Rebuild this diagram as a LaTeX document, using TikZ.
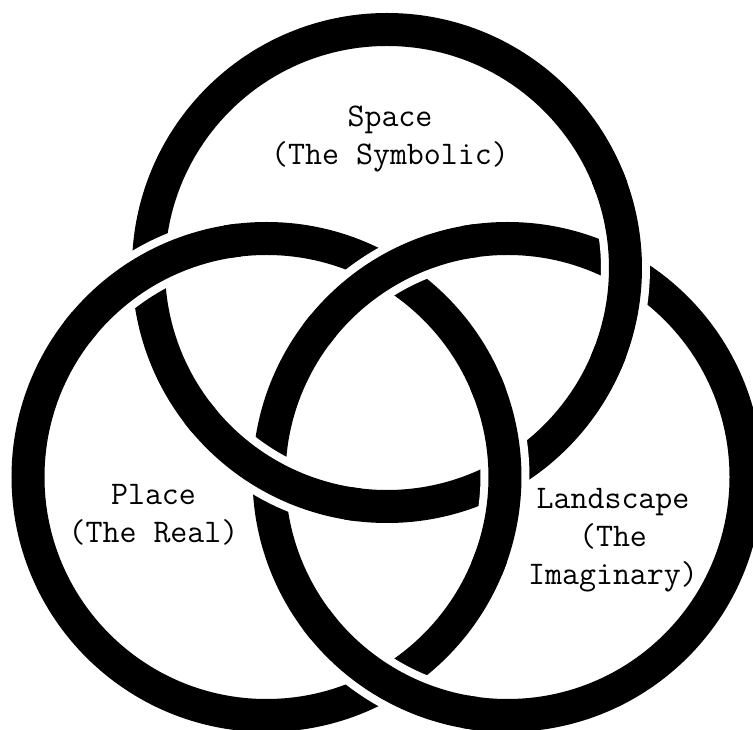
\documentclass[tikz,border=0pt]{standalone}
\begin{document}
\begin{tikzpicture}[x=1pt,y=1pt,
  ring/.style={line width=33pt, black},
  gapline/.style={white, line width=49pt},
  lbl/.style={font=\ttfamily\fontsize{33}{38}\selectfont, align=center, anchor=base, inner sep=0pt}]
\useasboundingbox (0,0) rectangle (753,729);
\fill[white] (0,0) rectangle (753,729);
\clip (0,0) rectangle (753,729);
\coordinate (T) at (387,461);
\coordinate (L) at (266.5,252);
\coordinate (R) at (507.5,252);
\draw[ring] (T) circle[radius=238.5pt];
\draw[ring] (L) circle[radius=238.5pt];
\draw[ring] (R) circle[radius=238.5pt];
% over-crossings: Place over Space, Space over Landscape, Landscape over Place
\foreach \c/\a in {L/119.65, L/0.41, T/-0.41, T/-119.65, R/120.35, R/239.65} {
  \draw[gapline] (\c) ++(\a-20:238.5pt) arc[start angle=\a-20, end angle=\a+20, radius=238.5pt];
  \draw[ring] (\c) ++(\a-23:238.5pt) arc[start angle=\a-23, end angle=\a+23, radius=238.5pt];
}
\node[lbl] (space) at (390,564) {Space\\(The Symbolic)};
\node[lbl] (place) at (153.5,186) {Place\\(The Real)};
\node[lbl] (land) at (613,144) {Landscape\\(The\\Imaginary)};
\end{tikzpicture}
\end{document}
